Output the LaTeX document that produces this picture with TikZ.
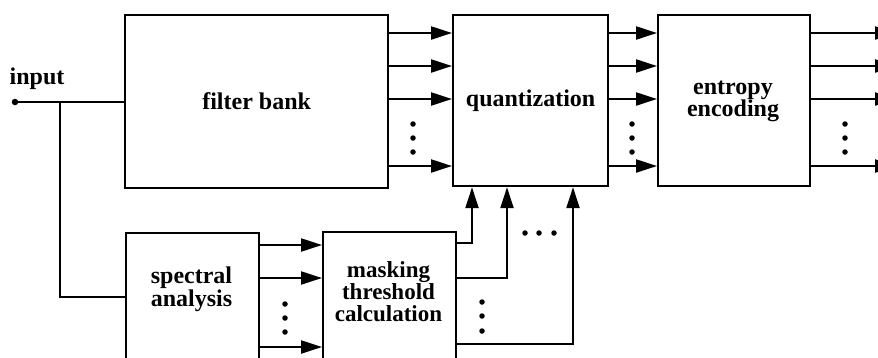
\documentclass[tikz,border=0pt]{standalone}
\usepackage{fontspec}
\setmainfont{Liberation Serif}
\usetikzlibrary{arrows.meta,calc}
\begin{document}
\begin{tikzpicture}[x=1pt,y=-1pt,
 box/.style={draw,line width=2.2pt,anchor=north west,inner sep=0pt},
 lbl/.style={font=\fontsize{24}{21}\selectfont\bfseries,align=center,inner sep=0pt},
 wire/.style={line width=2.2pt},
 arr/.style={wire,-{Triangle[length=21pt,width=13pt]}},
 dotn/.style={circle,fill,inner sep=0pt,minimum size=5.5pt}]
\useasboundingbox (0,0) rectangle (878,357);
\clip (0,0) rectangle (878,357);
% boxes
\node[box,minimum width=263pt,minimum height=173pt] (fb) at (124,14) {};
\node[box,minimum width=155pt,minimum height=171pt] (qz) at (452,14) {};
\node[box,minimum width=152pt,minimum height=171pt] (ee) at (657,14) {};
\node[box,minimum width=133pt,minimum height=200pt] (sa) at (125,232) {};
\node[box,minimum width=133pt,minimum height=200pt] (mt) at (322,231) {};
% labels
\node[lbl] (fbt) at (fb.center) {filter bank};
\node[lbl] (qzt) at (qz.center) {quantization};
\node[lbl,font=\fontsize{24}{22}\selectfont\bfseries] (eet) at (733,101) {entropy\\encoding};
\node[lbl,font=\fontsize{24}{23}\selectfont\bfseries] (sat) at (191.5,289) {spectral\\analysis};
\node[lbl,font=\fontsize{23}{22}\selectfont\bfseries] (mtt) at (388.5,292) {masking\\threshold\\calculation};
\node[lbl] (inl) at (37,79) {input};
% input
\node[dotn,minimum size=6.5pt] (in) at (15,102) {};
\coordinate (j) at (60,102);
\draw[wire] (in) -- (fb.west |- in);
\draw[wire] (j) |- (sa.west |- 0,297);
% filter bank -> quantization -> entropy -> out
\foreach \y/\n in {33/1,66/2,99/3,166/4}{
  \draw[arr] (fb.east |- 0,\y) -- (qz.west |- 0,\y);
  \draw[arr] (qz.east |- 0,\y) -- (ee.west |- 0,\y);
  \coordinate (o\n) at (896,\y);
  \draw[arr] (ee.east |- 0,\y) -- (o\n);
}
% spectral -> masking
\foreach \y in {245,278,347}{
  \draw[arr] (sa.east |- 0,\y) -- (mt.west |- 0,\y);
}
% masking -> quantization
\draw[arr] (mt.east |- 0,243) -| (qz.south -| 472,0);
\draw[arr] (mt.east |- 0,278) -| (qz.south -| 507,0);
\draw[arr] (mt.east |- 0,344) -| (qz.south -| 573,0);
% dots
\foreach \x in {413,632,845}{
  \foreach \y in {124,138,152} \node[dotn] at (\x,\y) {};
}
\foreach \y in {304,318,332} \node[dotn] at (285,\y) {};
\foreach \y in {302,316,331} \node[dotn] at (482,\y) {};
\foreach \x in {525,539,554} \node[dotn] at (\x,233) {};
\end{tikzpicture}
\end{document}
